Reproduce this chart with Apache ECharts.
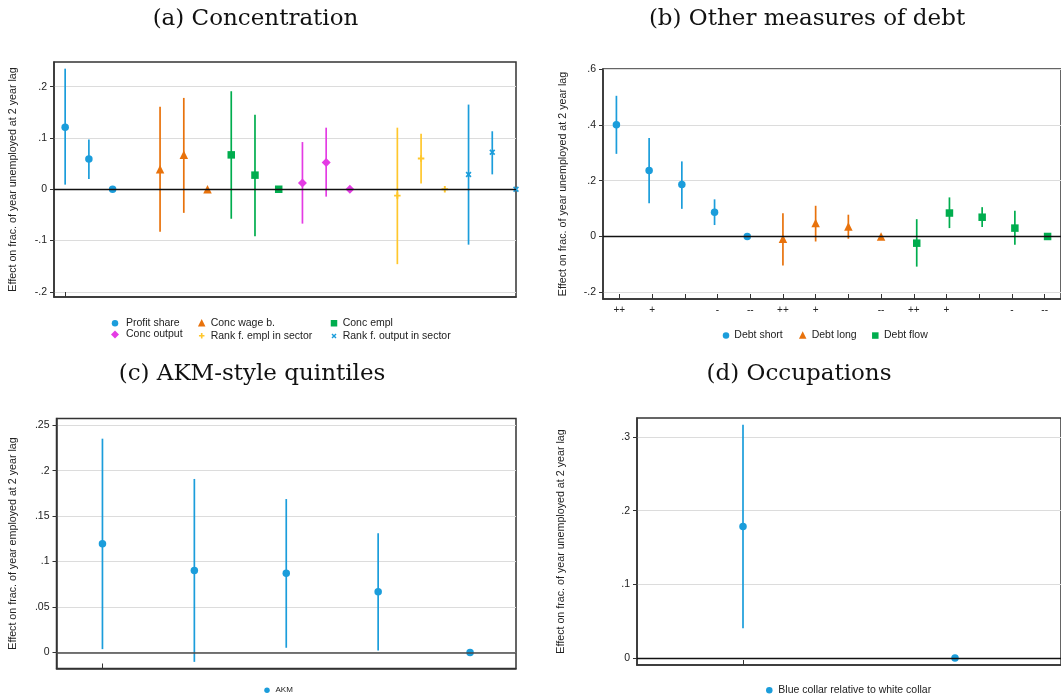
<!DOCTYPE html>
<html>
<head>
<meta charset="utf-8">
<script src="https://cdn.jsdelivr.net/npm/echarts@6/dist/echarts.min.js"></script>
<style>
  html, body { margin: 0; padding: 0; background: #fff; }
  #chart { width: 1061px; height: 698px; }
</style>
</head>
<body>
<div id="chart"></div>
<script>
// ---------- (a) Concentration ----------
const concNames = ['Profit share', 'Conc wage b.', 'Conc empl', 'Conc output',
                   'Rank f. empl in sector', 'Rank f. output in sector'];
// slot of each coefficient along the horizontal axis (gaps separate the blocks)
const concSlots = [[0, 1, 2], [4, 5, 6], [7, 8, 9], [10, 11, 12], [14, 15, 16], [17, 18, 19]];
const concEst = [[0.121, 0.059, 0], [0.039, 0.067, 0], [0.067, 0.0275, 0],
                 [0.0124, 0.052, 0], [-0.0124, 0.060, 0], [0.0288, 0.072, 0]];
const concLo = [[0.009, 0.020, null], [-0.083, -0.046, null], [-0.0575, -0.0915, null],
                [-0.067, -0.0144, null], [-0.146, 0.011, null], [-0.108, 0.029, null]];
const concHi = [[0.235, 0.097, null], [0.161, 0.178, null], [0.191, 0.145, null],
                [0.092, 0.120, null], [0.120, 0.108, null], [0.165, 0.113, null]];
const concYTicks = [-0.2, -0.1, 0, 0.1, 0.2];

// ---------- (b) Other measures of debt ----------
const debtNames = ['Debt short', 'Debt long', 'Debt flow'];
const debtSlots = [[0, 1, 2, 3, 4], [5, 6, 7, 8], [9, 10, 11, 12, 13]];
const debtEst = [[0.400, 0.236, 0.186, 0.087, 0], [-0.008, 0.048, 0.036, 0],
                 [-0.024, 0.084, 0.069, 0.030, 0]];
const debtLo = [[0.296, 0.119, 0.099, 0.041, null], [-0.104, -0.018, -0.008, null],
                [-0.108, 0.030, 0.034, -0.030, null]];
const debtHi = [[0.504, 0.353, 0.269, 0.133, null], [0.083, 0.110, 0.078, null],
                [0.062, 0.140, 0.105, 0.092, null]];
const debtXTickLabels = ['++', '+', '', '-', '--', '++', '+', '', '--', '++', '+', '', '-', '--'];
const debtYTicks = [-0.2, 0, 0.2, 0.4, 0.6];

// ---------- (c) AKM-style quintiles ----------
const akmName = 'AKM';
const akmSlots = [0, 1, 2, 3, 4];
const akmEst = [0.1196, 0.0901, 0.0871, 0.0668, 0];
const akmLo = [0.0037, -0.0103, 0.0052, 0.0022, null];
const akmHi = [0.2352, 0.1909, 0.1688, 0.1311, null];
const akmYTicks = [0, 0.05, 0.1, 0.15, 0.2, 0.25];

// ---------- (d) Occupations ----------
const occName = 'Blue collar relative to white collar';
const occSlots = [0, 1];
const occEst = [0.1785, 0];
const occLo = [0.0403, null];
const occHi = [0.3167, null];
const occYTicks = [0, 0.1, 0.2, 0.3];

// ---------- styling ----------
const BLUE = '#1b9ddb', ORANGE = '#e8720c', GREEN = '#00ad4e',
      MAGENTA = '#e43be4', YELLOW = '#ffc72c';
const PLUS = 'path://M3.5,0H6.5V3.5H10V6.5H6.5V10H3.5V6.5H0V3.5H3.5Z';
const CROSS = 'path://M0,2L2,0L5,3L8,0L10,2L7,5L10,8L8,10L5,7L2,10L0,8L3,5Z';
const SANS = 'Liberation Sans';
const TXT = '#222';
const FRAME = '#333';

const concColors = [BLUE, ORANGE, GREEN, MAGENTA, YELLOW, BLUE];
const concSymbols = ['circle', 'triangle', 'rect', 'diamond', PLUS, CROSS];
const concSizes = [7.5, 8.5, 7.5, 9, 6.5, 6];
const debtColors = [BLUE, ORANGE, GREEN];
const debtSymbols = ['circle', 'triangle', 'rect'];
const debtSizes = [7.5, 8.5, 7.5];
const debtOffsets = [-0.09, 0, 0.09];

function stataNum(v) {
  const r = Math.round(v * 1000) / 1000;
  if (r === 0) return '0';
  return (r < 0 ? '-' : '') + String(Math.abs(r)).replace(/^0\./, '.');
}

function yAxis(gi, min, max, ticks, name, nameGap) {
  return {
    type: 'value', gridIndex: gi, min: min, max: max,
    name: name, nameLocation: 'middle', nameGap: nameGap,
    nameTextStyle: { fontFamily: SANS, fontSize: 10.7, color: TXT },
    axisLine: { show: true, onZero: false, lineStyle: { color: FRAME, width: 1.5 } },
    axisTick: { show: true, customValues: ticks, length: 4, lineStyle: { color: FRAME, width: 1 } },
    axisLabel: { customValues: ticks, margin: 7, formatter: stataNum,
                 fontFamily: SANS, fontSize: 10.5, color: TXT },
    splitLine: { show: true, lineStyle: { color: '#dcdcdc', width: 1 } }
  };
}

function xAxis(gi, min, max, ticks, labels) {
  return {
    type: 'value', gridIndex: gi, min: min, max: max,
    axisLine: { show: true, onZero: false, lineStyle: { color: FRAME, width: 1.5 } },
    axisTick: { show: true, inside: true, customValues: ticks, length: 5,
                lineStyle: { color: FRAME, width: 1 } },
    axisLabel: labels ? {
      customValues: ticks, margin: 6, fontFamily: SANS, fontSize: 10, color: TXT,
      formatter: v => labels[Math.round(v)] || ''
    } : { show: false },
    splitLine: { show: false }
  };
}

// vertical confidence-interval segments
function ciSeries(gi, x, lo, hi, color) {
  const data = [];
  x.forEach((v, i) => { if (lo[i] != null) data.push([v, lo[i], hi[i]]); });
  return {
    type: 'custom', xAxisIndex: gi, yAxisIndex: gi, silent: true, z: 2,
    data: data,
    encode: { x: 0, y: [1, 2] },
    renderItem: (params, api) => {
      const a = api.coord([api.value(0), api.value(1)]);
      const b = api.coord([api.value(0), api.value(2)]);
      return { type: 'line', shape: { x1: a[0], y1: a[1], x2: b[0], y2: b[1] },
               style: { stroke: color, lineWidth: 1.7 } };
    }
  };
}

function pointSeries(gi, name, x, est, color, symbol, size) {
  return {
    type: 'scatter', name: name, xAxisIndex: gi, yAxisIndex: gi, z: 4,
    data: x.map((v, i) => [v, est[i]]),
    symbol: symbol, symbolSize: size, clip: false,
    itemStyle: { color: color, opacity: 1 },
    emphasis: { disabled: true }
  };
}

function zeroLine(gi, color, width) {
  return {
    type: 'scatter', xAxisIndex: gi, yAxisIndex: gi, data: [], z: 3, silent: true,
    markLine: { silent: true, symbol: 'none', label: { show: false }, animation: false,
                lineStyle: { color: color, width: width, type: 'solid' },
                data: [{ yAxis: 0 }] }
  };
}

function legendAt(name, cx, cy, size, dx, fontSize) {
  return {
    data: [name], left: cx - size / 2, top: cy - size / 2,
    itemWidth: size, itemHeight: size, itemGap: 0, padding: 0, selectedMode: false,
    textStyle: { fontFamily: SANS, fontSize: fontSize, color: TXT,
                 padding: [0, 0, 0, Math.max(0, dx - size / 2 - 5)] }
  };
}

const series = [];
// (a)
series.push(zeroLine(0, '#111', 1.3));
concNames.forEach((n, k) => {
  series.push(ciSeries(0, concSlots[k], concLo[k], concHi[k], concColors[k]));
  series.push(pointSeries(0, n, concSlots[k], concEst[k], concColors[k], concSymbols[k], concSizes[k]));
});
// (b)
series.push(zeroLine(1, '#111', 1.3));
debtNames.forEach((n, k) => {
  const x = debtSlots[k].map(s => s + debtOffsets[k]);
  series.push(ciSeries(1, x, debtLo[k], debtHi[k], debtColors[k]));
  series.push(pointSeries(1, n, x, debtEst[k], debtColors[k], debtSymbols[k], debtSizes[k]));
});
// (c)
series.push(zeroLine(2, '#4a4a4a', 1.6));
series.push(ciSeries(2, akmSlots, akmLo, akmHi, BLUE));
series.push(pointSeries(2, akmName, akmSlots, akmEst, BLUE, 'circle', 7.5));
// (d)
series.push(zeroLine(3, '#111', 1.3));
series.push(ciSeries(3, occSlots, occLo, occHi, BLUE));
series.push(pointSeries(3, occName, occSlots, occEst, BLUE, 'circle', 7.5));

const concLegendPos = [[115, 321, 11], [201.7, 321, 9], [334, 321, 8.7],
                       [115, 333, 11], [201.7, 333, 9], [334, 333, 8.7]];
const debtLegendPos = [[726, 333.3, 8.3], [802.7, 333.3, 9], [875.3, 333.3, 8.7]];

const legends = [];
concNames.forEach((n, k) => {
  const p = concLegendPos[k];
  legends.push(legendAt(n, p[0], p[1], concSizes[k] - 1, p[2], 10.5));
});
debtNames.forEach((n, k) => {
  const p = debtLegendPos[k];
  legends.push(legendAt(n, p[0], p[1], debtSizes[k] - 1, p[2], 10.5));
});
legends.push(legendAt(akmName, 267, 689, 5.5, 8.5, 8));
legends.push(legendAt(occName, 769.3, 688, 6.5, 9, 10.5));

function title(text, x, y) {
  return { type: 'text', x: x, y: y, silent: true,
           style: { text: text, fill: '#111', font: '23px "DejaVu Serif"',
                    align: 'center', verticalAlign: 'middle' } };
}

const chart = echarts.init(document.getElementById('chart'), null, { renderer: 'canvas' });
chart.setOption({
  animation: false,
  backgroundColor: '#fff',
  grid: [
    { left: 54, right: 545, top: 62, bottom: 401, show: true, borderColor: FRAME, borderWidth: 1.5, backgroundColor: '#fff' },
    { left: 603, right: -4, top: 69, bottom: 399, show: true, borderColor: FRAME, borderWidth: 1.5, backgroundColor: '#fff' },
    { left: 56.5, right: 545, top: 418.5, bottom: 29.5, show: true, borderColor: FRAME, borderWidth: 1.5, backgroundColor: '#fff' },
    { left: 637, right: -4, top: 418, bottom: 33, show: true, borderColor: FRAME, borderWidth: 1.5, backgroundColor: '#fff' }
  ],
  xAxis: [
    xAxis(0, -0.47, 19, [0]),
    xAxis(1, -0.5, 13.5, debtXTickLabels.map((_, i) => i), debtXTickLabels),
    xAxis(2, -0.5, 4.5, [0]),
    xAxis(3, -0.5, 1.5, [0])
  ],
  yAxis: [
    yAxis(0, -0.21, 0.248, concYTicks, 'Effect on frac. of year unemployed at 2 year lag', 35),
    yAxis(1, -0.224, 0.6, debtYTicks, 'Effect on frac. of year unemployed at 2 year lag', 34),
    yAxis(2, -0.0176, 0.2574, akmYTicks, 'Effect on frac. of year employed at 2 year lag', 38),
    yAxis(3, -0.0095, 0.3257, occYTicks, 'Effect on frac. of year unemployed at 2 year lag', 70)
  ],
  legend: legends,
  series: series,
  graphic: [
    title('(a) Concentration', 255.5, 19),
    title('(b) Other measures of debt', 807, 19),
    title('(c) AKM-style quintiles', 252, 374),
    title('(d) Occupations', 799, 374)
  ]
});
</script>
</body>
</html>
